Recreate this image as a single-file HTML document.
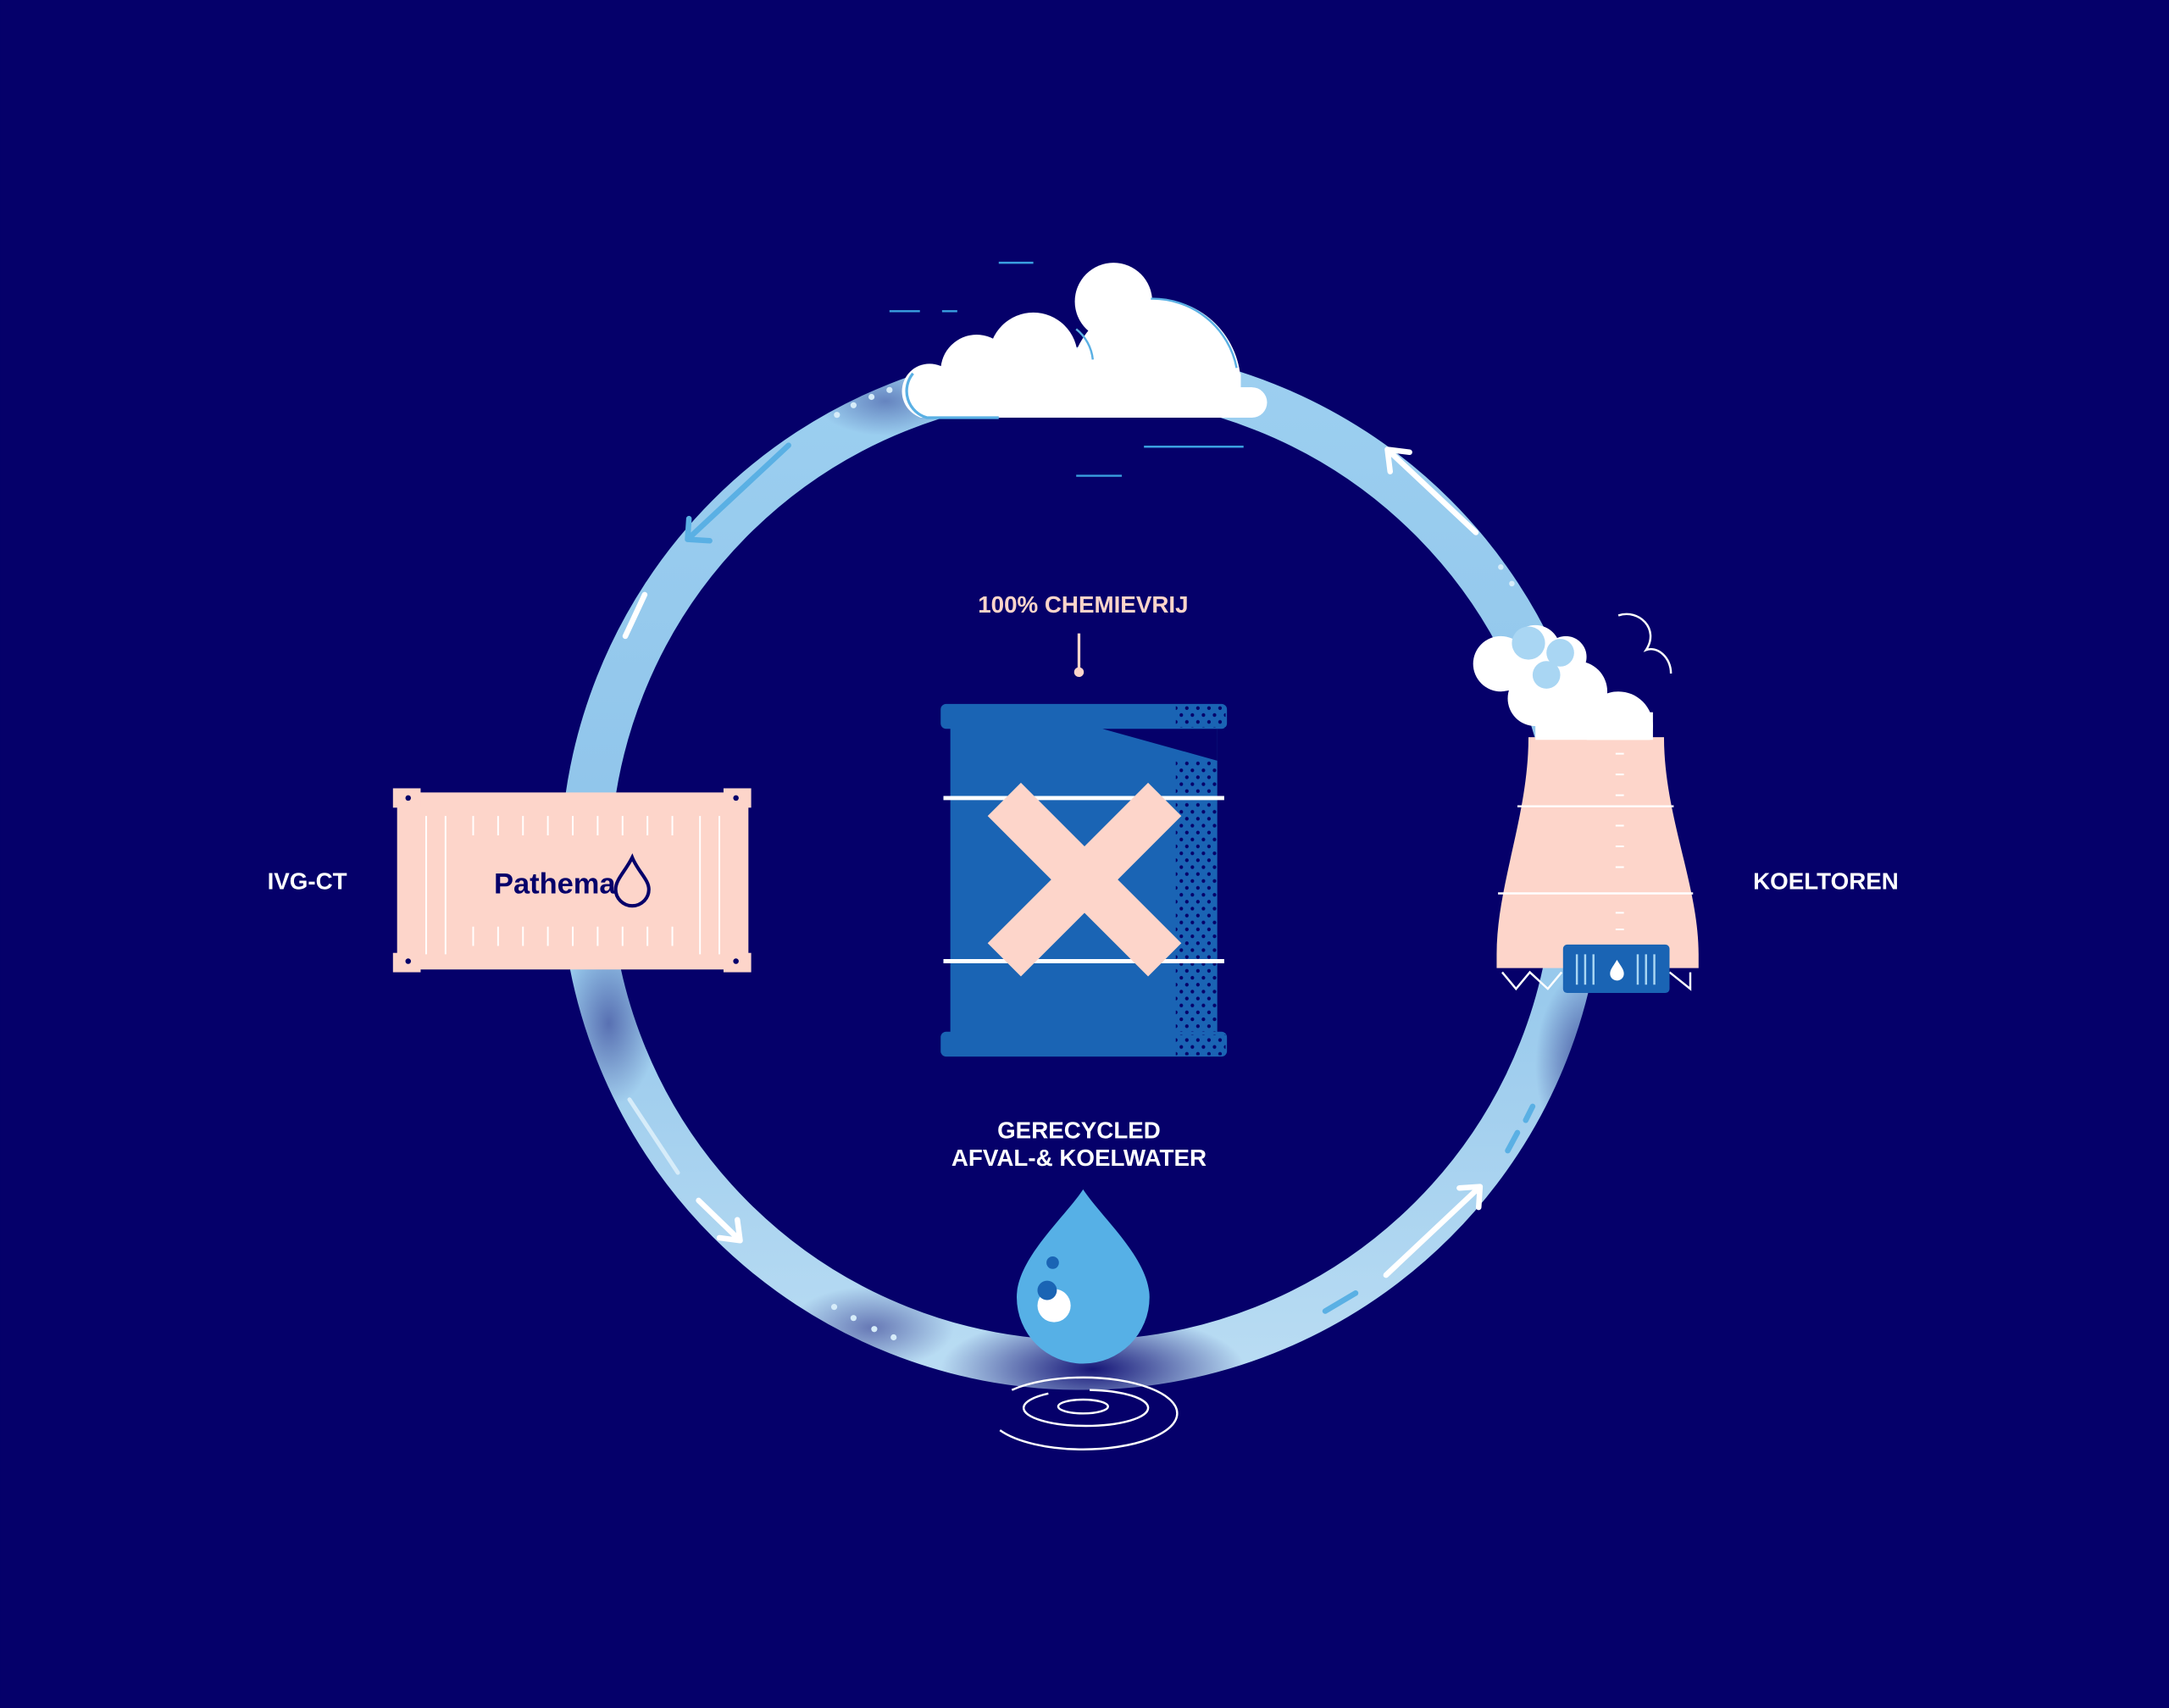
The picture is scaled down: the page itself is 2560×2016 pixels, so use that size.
<!DOCTYPE html>
<html><head><meta charset="utf-8"><style>
html,body{margin:0;padding:0;background:#05006a;}
svg{display:block}
text{font-family:"Liberation Sans",sans-serif;font-weight:bold;}
</style></head><body>
<svg width="2560" height="2016" viewBox="0 0 1568 1235" xmlns="http://www.w3.org/2000/svg">
<defs>
<linearGradient id="rg" x1="0" y1="0" x2="0" y2="1">
<stop offset="0" stop-color="#9ccff0"/>
<stop offset="0.5" stop-color="#8fc4ea"/>
<stop offset="1" stop-color="#b9dcf3"/>
</linearGradient>
<radialGradient id="fadeB" cx="0.5" cy="0.5" r="0.5">
<stop offset="0" stop-color="#05006a" stop-opacity="0.9"/>
<stop offset="1" stop-color="#05006a" stop-opacity="0"/>
</radialGradient>
<pattern id="dots" width="8" height="10" patternUnits="userSpaceOnUse">
<circle cx="2" cy="2" r="1.3" fill="#05006a"/><circle cx="6" cy="7" r="1.3" fill="#05006a"/>
</pattern>
<clipPath id="cc"><rect x="600" y="150" width="400" height="152"/></clipPath>
<clipPath id="tc"><rect x="1000" y="400" width="300" height="135"/></clipPath>
</defs>
<rect width="1568" height="1235" fill="#05006a"/>
<circle cx="782" cy="628" r="359" fill="none" stroke="url(#rg)" stroke-width="36"/>
<ellipse cx="790" cy="990" rx="110" ry="40" fill="url(#fadeB)"/>
<ellipse cx="1150" cy="770" rx="40" ry="70" fill="url(#fadeB)" opacity="0.7"/>
<ellipse cx="440" cy="740" rx="35" ry="60" fill="url(#fadeB)" opacity="0.5"/>
<ellipse cx="630" cy="960" rx="60" ry="30" fill="url(#fadeB)" opacity="0.5"/>
<ellipse cx="640" cy="290" rx="50" ry="25" fill="url(#fadeB)" opacity="0.4"/>
<g fill="none" stroke-linecap="round" stroke-width="4">
<path d="M1067 385 L1003 325 M1003 325 l2 16 M1003 325 l16 2" stroke="#fff"/>
<path d="M570 322 L497 390 M497 390 l16 1 M497 390 l1 -15" stroke="#5ab0e4"/>
<path d="M466 430 L452 460" stroke="#fff"/>
<path d="M455 795 L490 848" stroke="#d6ecf9" stroke-width="3"/>
<path d="M505 868 L535 897 M535 897 l-2 -15 M535 897 l-15 -2" stroke="#fff"/>
<path d="M1002 922 L1070 858 M1070 858 l-15 1 M1070 858 l-1 15" stroke="#fff"/>
<path d="M958 948 L980 935" stroke="#5ab0e4"/>
<path d="M1090 832 L1097 819 M1103 810 L1108 800" stroke="#5ab0e4"/>
</g>
<g fill="#d6ecf9">
<circle cx="605" cy="300" r="2.2"/><circle cx="617" cy="293" r="2.2"/><circle cx="630" cy="287" r="2.2"/><circle cx="643" cy="282" r="2.2"/>
<circle cx="603" cy="945" r="2.2"/><circle cx="617" cy="953" r="2.2"/><circle cx="632" cy="961" r="2.2"/><circle cx="646" cy="967" r="2.2"/>
<circle cx="1085" cy="410" r="2"/><circle cx="1093" cy="422" r="2"/>
</g>
<g stroke="#3aa0e0" stroke-width="1.5" fill="none">
<path d="M722 190 h25 M643 225 h22 M681 225 h11 M827 323 h72 M778 344 h33"/>
</g>
<g fill="#fff" clip-path="url(#cc)">
<circle cx="805" cy="218" r="28"/>
<circle cx="835" cy="278" r="62"/>
<circle cx="747" cy="258" r="32"/>
<circle cx="706" cy="268" r="26"/>
<circle cx="672" cy="283" r="20"/>
<rect x="672" y="270" width="225" height="32"/>
</g>
<circle cx="905" cy="291" r="11" fill="#fff"/>
<rect x="880" y="280" width="25" height="22" fill="#fff"/>
<path d="M660 270 a20 20 0 0 0 10 32 h52" fill="none" stroke="#5ab0e4" stroke-width="2"/>
<path d="M778 238 a32 32 0 0 1 12 22" fill="none" stroke="#5ab0e4" stroke-width="1.5"/>
<path d="M832 216 a62 62 0 0 1 62 50" fill="none" stroke="#5ab0e4" stroke-width="1.5"/>
<text x="783" y="443" font-size="17" fill="#fdd5ca" text-anchor="middle">100% CHEMIEVRIJ</text>
<line x1="780" y1="458" x2="780" y2="483" stroke="#fdd5ca" stroke-width="2"/>
<circle cx="780" cy="486" r="3.5" fill="#fdd5ca"/>
<text x="222" y="643" font-size="17" fill="#fff" text-anchor="middle">IVG-CT</text>
<text x="1320" y="643" font-size="17" fill="#fff" text-anchor="middle">KOELTOREN</text>
<text x="780" y="823" font-size="17" fill="#fff" text-anchor="middle">GERECYCLED</text>
<text x="780" y="843" font-size="17" fill="#fff" text-anchor="middle">AFVAL-&amp; KOELWATER</text>
<rect x="687" y="520" width="193" height="235" fill="#1a64b4"/>
<rect x="680" y="509" width="207" height="18" rx="4" fill="#1a64b4"/>
<rect x="680" y="746" width="207" height="18" rx="4" fill="#1a64b4"/>
<path d="M797 527 L880 527 L880 550 Z" fill="#05006a"/>
<rect x="850" y="550" width="30" height="196" fill="url(#dots)"/>
<rect x="850" y="510" width="36" height="16" fill="url(#dots)"/>
<rect x="850" y="748" width="36" height="15" fill="url(#dots)"/>
<line x1="682" y1="577" x2="885" y2="577" stroke="#fff" stroke-width="3"/>
<line x1="682" y1="695" x2="885" y2="695" stroke="#fff" stroke-width="3"/>
<path d="M726 578 L842 694 M842 578 L726 694" stroke="#fdd5ca" stroke-width="34"/>
<rect x="287" y="573" width="254" height="128" fill="#fdd5ca"/>
<g fill="#fdd5ca"><rect x="284" y="570" width="20" height="14"/><rect x="523" y="570" width="20" height="14"/><rect x="284" y="689" width="20" height="14"/><rect x="523" y="689" width="20" height="14"/></g>
<g fill="#05006a"><circle cx="295" cy="577" r="2"/><circle cx="532" cy="577" r="2"/><circle cx="295" cy="695" r="2"/><circle cx="532" cy="695" r="2"/></g>
<g stroke="#fff" stroke-width="1.2">
<path d="M308 590 v100 M322 590 v100 M506 590 v100 M520 590 v100"/>
<path d="M342 590 v14 M360 590 v14 M378 590 v14 M396 590 v14 M414 590 v14 M432 590 v14 M450 590 v14 M468 590 v14 M486 590 v14"/>
<path d="M342 670 v14 M360 670 v14 M378 670 v14 M396 670 v14 M414 670 v14 M432 670 v14 M450 670 v14 M468 670 v14 M486 670 v14"/>
</g>
<text x="357" y="646" font-size="21" fill="#05006a" textLength="88" lengthAdjust="spacingAndGlyphs">Pathema</text>
<path d="M457 620 C452 630 445 636 445 643 a12 12 0 0 0 24 0 c0 -7 -8 -13 -12 -23z" fill="none" stroke="#05006a" stroke-width="2.5"/>
<path d="M1105 533 L1203 533 C1203 590 1228 640 1228 690 L1228 700 L1082 700 L1082 690 C1082 640 1105 590 1105 533 Z" fill="#fdd5ca"/>
<g fill="#fff" clip-path="url(#tc)"><circle cx="1085" cy="480" r="20"/><circle cx="1110" cy="470" r="18"/><circle cx="1132" cy="475" r="15"/><circle cx="1140" cy="500" r="22"/><circle cx="1110" cy="505" r="20"/><circle cx="1170" cy="525" r="25"/><rect x="1110" y="515" width="85" height="20"/></g>
<g fill="#a9d6f3"><circle cx="1105" cy="465" r="12"/><circle cx="1128" cy="472" r="10"/><circle cx="1118" cy="488" r="10"/></g>
<path d="M1170 445 c15 -5 30 10 20 25 c8 -3 18 5 18 17" fill="none" stroke="#fff" stroke-width="1.5"/>
<g stroke="#fff" stroke-width="1.5"><line x1="1097" y1="583" x2="1210" y2="583"/><line x1="1083" y1="646" x2="1224" y2="646"/></g>
<g stroke="#fff" stroke-width="1.2"><path d="M1168 545 h6 M1168 560 h6 M1168 575 h6 M1168 597 h6 M1168 612 h6 M1168 627 h6 M1168 660 h6 M1168 672 h6"/></g>
<path d="M1086 703 l10 12 l10 -12 l13 12 l10 -12 M1207 703 l15 12 v-12" fill="none" stroke="#fff" stroke-width="1.5"/>
<rect x="1130" y="683" width="77" height="35" rx="3" fill="#1a64b4"/>
<g stroke="#a9d6f3" stroke-width="1.5"><path d="M1140 690 v22 M1146 690 v22 M1152 690 v22 M1184 690 v22 M1190 690 v22 M1196 690 v22"/></g>
<path d="M1169 694 c-3 5 -5 7 -5 10 a5 5 0 0 0 10 0 c0 -3 -2 -5 -5 -10z" fill="#fff"/>
<path d="M783 860 C770 880 735 910 735 938 a48 48 0 0 0 96 0 C831 910 796 880 783 860 Z" fill="#56b0e6"/>
<circle cx="762" cy="944" r="12" fill="#fff"/>
<circle cx="757" cy="933" r="7" fill="#1a64b4"/>
<circle cx="761" cy="913" r="4.5" fill="#1a64b4"/>
<g fill="none" stroke="#fff" stroke-width="1.5">
<ellipse cx="783" cy="1017" rx="18" ry="5" stroke-dasharray="80 20"/>
<ellipse cx="785" cy="1018" rx="45" ry="13" stroke-dasharray="120 30 60 20"/>
<ellipse cx="783" cy="1022" rx="68" ry="26" stroke-dasharray="140 40 150 50"/>
</g>
</svg>
</body></html>
